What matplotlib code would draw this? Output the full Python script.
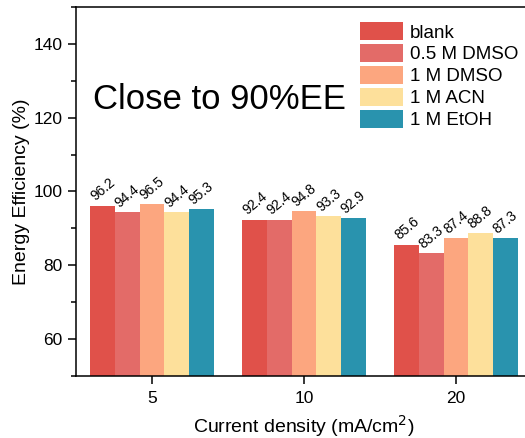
import numpy as np
import matplotlib.pyplot as plt
from matplotlib.ticker import MultipleLocator

plt.rcParams['font.family'] = ['Liberation Sans', 'DejaVu Sans']

densities = ['5', '10', '20']
series = ['blank', '0.5 M DMSO', '1 M DMSO', '1 M ACN', '1 M EtOH']
blank = [96.2, 92.4, 85.6]
dmso_05 = [94.4, 92.4, 83.3]
dmso_1 = [96.5, 94.8, 87.4]
acn_1 = [94.4, 93.3, 88.8]
etoh_1 = [95.3, 92.9, 87.3]
colors = ['#E0514A', '#E36B68', '#FCA67F', '#FDE09B', '#2993AE']

fig = plt.figure(figsize=(5.25, 4.38), dpi=100)
ax = fig.add_axes([76 / 525, 62 / 438, 456 / 525, 369 / 438])

x = np.arange(len(densities))
w = 0.162
for i, (name, vals) in enumerate(zip(series, [blank, dmso_05, dmso_1, acn_1, etoh_1])):
    pos = x + (i - 2) * w
    ax.bar(pos, vals, width=w, color=colors[i], label=name, edgecolor='none')
    for p, v in zip(pos, vals):
        ax.text(p, v + 0.5, f'{v:.1f}', rotation=40, ha='center', va='bottom',
                fontsize=10)

ax.set_xlim(-0.5, 2.5)
ax.set_ylim(50, 150)
ax.set_xticks(x)
ax.set_xticklabels(densities)
ax.set_yticks([60, 80, 100, 120, 140])
ax.yaxis.set_minor_locator(MultipleLocator(10))
ax.tick_params(axis='both', which='major', direction='out', length=6, width=1.1,
               labelsize=12.5)
ax.tick_params(axis='x', which='major', pad=5)
ax.tick_params(axis='y', which='minor', direction='out', length=3.5, width=1.1)
for s in ax.spines.values():
    s.set_linewidth(1.1)
ax.spines['right'].set_visible(False)

ax.set_xlabel('Current density (mA/cm$^2$)', fontsize=14, labelpad=5)
ax.set_ylabel('Energy Efficiency (%)', fontsize=14, labelpad=3)

ax.text(0.038, 0.75, 'Close to 90%EE', transform=ax.transAxes, fontsize=25,
        va='center', ha='left')

ax.legend(loc='upper left', bbox_to_anchor=(0.607, 0.98), frameon=False,
          fontsize=13.5, handlelength=2.3, handleheight=1.15, labelspacing=0.12,
          handletextpad=0.35, borderaxespad=0)

fig.savefig('out.png', dpi=100)
